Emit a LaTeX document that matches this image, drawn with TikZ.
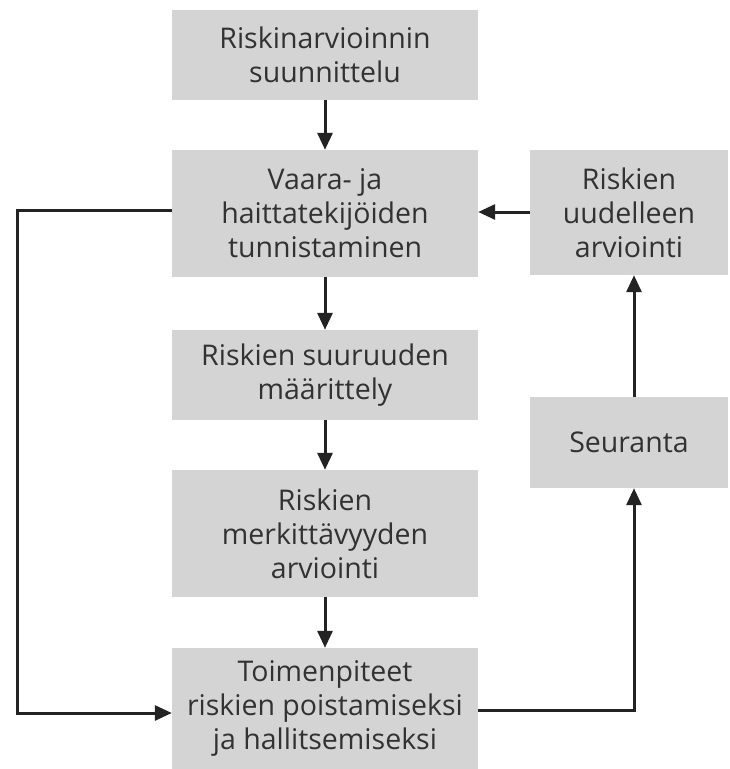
\documentclass[tikz,border=0pt]{standalone}
\usepackage{fontspec}
\setmainfont{Open Sans}
\usetikzlibrary{arrows.meta}
\definecolor{boxgray}{RGB}{212,212,212}
\definecolor{txtgray}{RGB}{50,50,50}
\definecolor{linegray}{RGB}{35,35,35}
\tikzset{
  stepbox/.style={fill=boxgray, draw=none, inner sep=0pt, align=center,
    text=txtgray, font=\fontsize{28.5}{34}\selectfont},
  flow/.style={draw=linegray, line width=3pt,
    -{Triangle[length=17pt,width=15pt]}},
}
\begin{document}
\begin{tikzpicture}[x=1pt,y=-1pt]
\useasboundingbox (0,0) rectangle (730,769);
\fill[white] (0,0) rectangle (730,769);
\node[stepbox, minimum width=306pt, minimum height=90pt] (b1) at (325,55)
  {Riskinarvioinnin\\suunnittelu};
\node[stepbox, minimum width=306pt, minimum height=127pt] (b2) at (325,213.5)
  {Vaara- ja\\haittatekijöiden\\tunnistaminen};
\node[stepbox, minimum width=306pt, minimum height=90pt] (b3) at (325,375)
  {Riskien suuruuden\\määrittely};
\node[stepbox, minimum width=306pt, minimum height=127pt] (b4) at (325,533.5)
  {Riskien\\merkittävyyden\\arviointi};
\node[stepbox, minimum width=306pt, minimum height=121pt] (b5) at (325,708.5)
  {Toimenpiteet\\riskien poistamiseksi\\ja hallitsemiseksi};
\node[stepbox, minimum width=198pt, minimum height=125pt] (r1) at (629,212.5)
  {Riskien\\uudelleen\\arviointi};
\node[stepbox, minimum width=198pt, minimum height=91pt] (r2) at (629,442.5)
  {Seuranta};
\coordinate (lt) at (17,210);
\coordinate (lb) at (17,713);
\coordinate (rb) at (634,710);
\draw[flow] (b1.south) -- (b2.north);
\draw[flow] (b2.south) -- (b3.north);
\draw[flow] (b3.south) -- (b4.north);
\draw[flow] (b4.south) -- (b5.north);
\draw[flow] (b2.west |- lt) -- (lt) -- (lb) -- (b5.west |- lb);
\draw[flow] (b5.east |- rb) -- (rb) -- (r2.south -| rb);
\draw[flow] (r2.north -| rb) -- (r1.south -| rb);
\draw[flow] (r1.west |- 0,212) -- (b2.east |- 0,212);
\end{tikzpicture}
\end{document}
